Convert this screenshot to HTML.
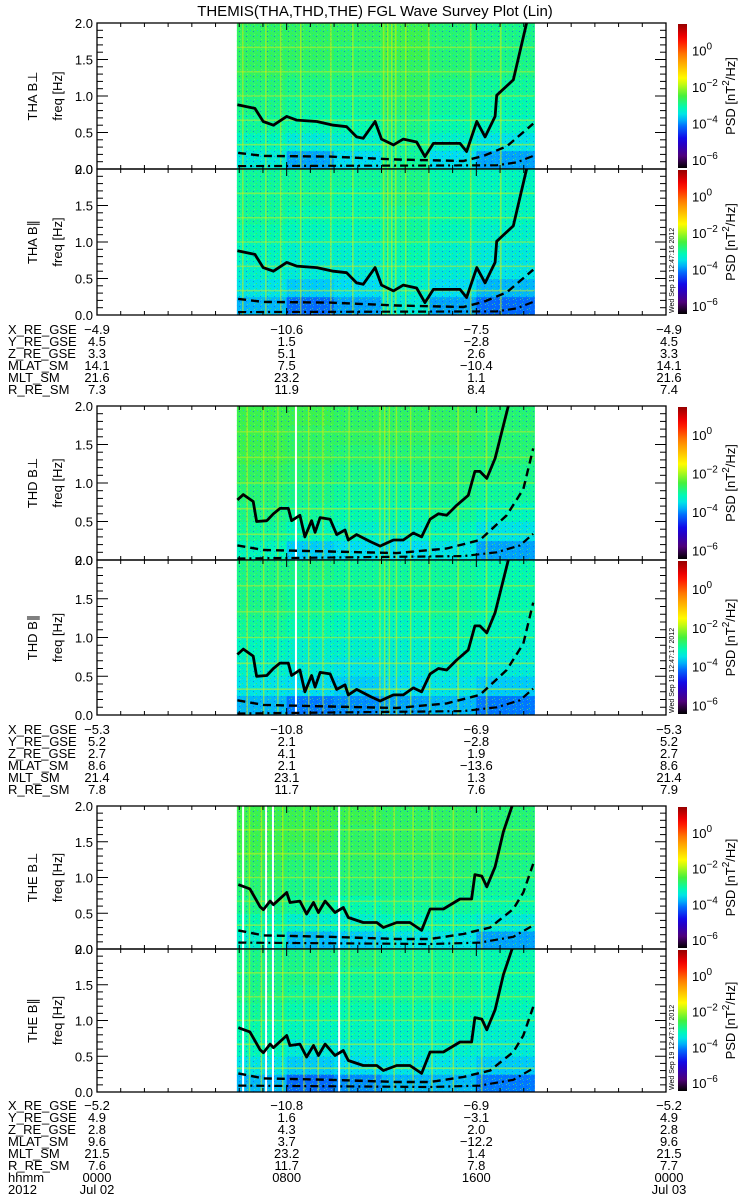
<!DOCTYPE html>
<html><head><meta charset="utf-8"><style>
html,body{margin:0;padding:0;background:#fff;}
svg{display:block;font-family:"Liberation Sans",sans-serif;}
</style></head><body>
<svg id="chart" width="750" height="1200" viewBox="0 0 750 1200" xmlns="http://www.w3.org/2000/svg">
<defs id="defs">
<pattern id="speckle" width="7" height="5" patternUnits="userSpaceOnUse">
<rect x="1" y="1" width="1" height="1" fill="#1040ff" opacity="0.6"/>
<rect x="4" y="3" width="1" height="1" fill="#40f040" opacity="0.7"/>
<rect x="5" y="0" width="1" height="1" fill="#00c0ff" opacity="0.6"/>
<rect x="2" y="4" width="1" height="1" fill="#a0ff40" opacity="0.5"/>
</pattern>
</defs>
<text x="375" y="16" text-anchor="middle" font-size="15">THEMIS(THA,THD,THE) FGL Wave Survey Plot (Lin)</text>
</svg>
<script>
// ---------- data ----------
const timeEdges = [5.9, 8, 10, 12, 14, 16, 18.45];
const freqEdges = [0, 0.25, 0.5, 0.75, 1.0, 1.25, 1.5, 1.75, 2.0];
const harmonicFreqs = [0.333, 0.667, 1.0, 1.333, 1.667];

const thaPerpLevels = [
 [-3.4,-3.9,-3.6,-3.0,-3.6,-3.9],[-3.2,-3.4,-3.3,-3.0,-3.3,-3.5],
 [-3.0,-3.1,-3.1,-2.9,-3.1,-3.2],[-2.9,-3.0,-3.0,-2.8,-3.0,-3.1],
 [-2.8,-2.9,-2.9,-2.7,-2.9,-3.0],[-2.7,-2.8,-2.8,-2.7,-2.8,-2.9],
 [-2.7,-2.7,-2.8,-2.6,-2.8,-2.9],[-2.7,-2.7,-2.7,-2.6,-2.8,-2.9]];
const thaParLevels = [
 [-3.8,-4.2,-3.9,-3.4,-3.9,-4.2],[-3.5,-3.7,-3.6,-3.3,-3.6,-3.8],
 [-3.3,-3.4,-3.4,-3.2,-3.4,-3.5],[-3.2,-3.3,-3.3,-3.1,-3.3,-3.4],
 [-3.1,-3.2,-3.2,-3.0,-3.2,-3.3],[-3.0,-3.1,-3.1,-3.0,-3.1,-3.2],
 [-3.0,-3.0,-3.1,-2.9,-3.1,-3.2],[-3.0,-3.0,-3.0,-2.9,-3.1,-3.2]];
const thdPerpLevels = [
 [-3.2,-3.7,-3.6,-3.6,-3.5,-3.9],[-3.0,-3.2,-3.3,-3.3,-3.2,-3.5],
 [-2.9,-3.0,-3.1,-3.1,-3.0,-3.2],[-2.8,-2.9,-3.0,-3.0,-2.9,-3.0],
 [-2.7,-2.8,-2.9,-2.9,-2.8,-2.9],[-2.6,-2.7,-2.8,-2.8,-2.8,-2.8],
 [-2.6,-2.7,-2.7,-2.7,-2.7,-2.8],[-2.6,-2.6,-2.7,-2.7,-2.7,-2.8]];
const thdParLevels = [
 [-3.8,-4.1,-4.0,-3.9,-3.8,-4.1],[-3.5,-3.6,-3.7,-3.6,-3.5,-3.7],
 [-3.3,-3.4,-3.5,-3.4,-3.3,-3.4],[-3.2,-3.3,-3.3,-3.3,-3.2,-3.3],
 [-3.0,-3.1,-3.2,-3.2,-3.1,-3.2],[-2.9,-3.0,-3.1,-3.1,-3.0,-3.1],
 [-2.9,-3.0,-3.0,-3.0,-3.0,-3.1],[-2.9,-2.9,-3.0,-3.0,-3.0,-3.1]];
const thePerpLevels = [
 [-3.3,-3.8,-3.7,-3.5,-3.5,-3.9],[-3.1,-3.3,-3.3,-3.2,-3.2,-3.4],
 [-2.9,-3.0,-3.1,-3.0,-3.0,-3.1],[-2.8,-2.9,-2.9,-2.9,-2.9,-3.0],
 [-2.7,-2.8,-2.8,-2.8,-2.8,-2.9],[-2.6,-2.7,-2.7,-2.7,-2.7,-2.8],
 [-2.6,-2.6,-2.7,-2.7,-2.7,-2.8],[-2.6,-2.6,-2.6,-2.7,-2.7,-2.8]];
const theParLevels = [
 [-3.8,-4.2,-4.0,-3.8,-3.8,-4.1],[-3.5,-3.7,-3.6,-3.5,-3.5,-3.7],
 [-3.2,-3.4,-3.4,-3.3,-3.3,-3.4],[-3.1,-3.2,-3.2,-3.2,-3.2,-3.3],
 [-3.0,-3.1,-3.1,-3.1,-3.1,-3.2],[-2.9,-3.0,-3.0,-3.0,-3.0,-3.1],
 [-2.9,-2.9,-3.0,-3.0,-3.0,-3.1],[-2.9,-2.9,-2.9,-3.0,-3.0,-3.1]];

const thaStripeTimes = [6.12,7.09,7.72,8.56,9.83,10.76,12.06,12.23,12.40,12.57,12.99,13.96,15.73,17.0];
const thdStripeTimes = [6.3,7.0,7.6,8.9,9.5,10.6,11.9,12.1,12.3,12.6,13.2,14.0,15.2,16.4];
const theStripeTimes = [6.4,6.9,7.8,8.7,9.3,10.6,11.7,12.5,13.3,14.1,15.0,16.2];
const thaGapTimes = [];
const thdGapTimes = [8.35];
const theGapTimes = [6.12,7.09,7.38,10.17];

const thaSolidT = [5.92,6.66,7.01,7.44,8.0,8.42,9.27,9.97,10.53,10.95,11.23,11.73,12.0,12.5,12.92,13.48,13.83,14.19,14.89,15.31,15.59,16.02,16.37,16.79,16.86,17.56,18.12];
const thaSolidF = [0.88,0.83,0.65,0.6,0.72,0.67,0.65,0.6,0.58,0.44,0.42,0.65,0.41,0.33,0.41,0.37,0.17,0.35,0.35,0.35,0.24,0.65,0.44,0.72,1.01,1.22,2.0];
const thaDashT = [5.95,7.02,9.83,12.64,15.45,16.30,17.28,18.40];
const thaDashF = [0.22,0.18,0.17,0.13,0.11,0.18,0.31,0.62];
const thaDotT = [5.95,16.86,17.70,18.40];
const thaDotF = [0.04,0.05,0.09,0.18];

const thdSolidT = [5.92,6.17,6.59,6.73,7.16,7.44,7.72,8.07,8.21,8.56,8.77,9.05,9.20,9.41,9.83,10.11,10.46,10.60,10.95,11.52,11.94,12.50,12.92,13.34,13.69,14.05,14.40,14.75,15.17,15.66,15.94,16.15,16.44,16.79,17.35];
const thdSolidF = [0.78,0.85,0.76,0.5,0.51,0.6,0.67,0.67,0.51,0.58,0.30,0.51,0.36,0.55,0.53,0.33,0.39,0.26,0.33,0.24,0.18,0.26,0.26,0.35,0.30,0.53,0.6,0.58,0.71,0.84,1.15,1.15,1.06,1.32,2.0];
const thdDashT = [5.92,7.02,9.83,12.64,14.75,16.15,17.28,17.98,18.40];
const thdDashF = [0.19,0.13,0.11,0.09,0.15,0.26,0.58,0.92,1.45];
const thdDotT = [5.92,15.45,16.86,17.84,18.40];
const thdDotF = [0.02,0.05,0.10,0.19,0.34];

const theSolidT = [5.96,6.45,6.88,7.02,7.30,7.44,8.0,8.14,8.56,8.84,9.13,9.34,9.62,10.04,10.39,10.60,11.23,11.80,12.08,12.64,13.20,13.69,14.05,14.61,15.31,15.80,15.94,16.23,16.44,16.79,17.14,17.56];
const theSolidF = [0.9,0.84,0.59,0.55,0.67,0.62,0.79,0.65,0.67,0.49,0.65,0.51,0.67,0.51,0.58,0.44,0.37,0.37,0.30,0.37,0.37,0.26,0.56,0.56,0.70,0.70,1.04,1.02,0.87,1.15,1.64,2.05];
const theDashT = [5.96,7.02,9.83,12.64,14.05,15.45,16.58,17.56,17.98,18.40];
const theDashF = [0.26,0.19,0.17,0.14,0.14,0.21,0.30,0.56,0.79,1.19];
const theDotT = [5.96,14.05,16.15,17.56,18.40];
const theDotF = [0.09,0.07,0.09,0.17,0.33];

const yTicks = [0, 0.5, 1.0, 1.5, 2.0];
const yTickLabels = ["0.0","0.5","1.0","1.5","2.0"];
const cbarExps = [0, -2, -4, -6];
const rowNames = ["X_RE_GSE","Y_RE_GSE","Z_RE_GSE","MLAT_SM","MLT_SM","R_RE_SM"];
const block1 = [["−4.9","−10.6","−7.5","−4.9"],["4.5","1.5","−2.8","4.5"],["3.3","5.1","2.6","3.3"],["14.1","7.5","−10.4","14.1"],["21.6","23.2","1.1","21.6"],["7.3","11.9","8.4","7.4"]];
const block2 = [["−5.3","−10.8","−6.9","−5.3"],["5.2","2.1","−2.8","5.2"],["2.7","4.1","1.9","2.7"],["8.6","2.1","−13.6","8.6"],["21.4","23.1","1.3","21.4"],["7.8","11.7","7.6","7.9"]];
const block3 = [["−5.2","−10.8","−6.9","−5.2"],["4.9","1.6","−3.1","4.9"],["2.8","4.3","2.0","2.8"],["9.6","3.7","−12.2","9.6"],["21.5","23.2","1.4","21.5"],["7.6","11.7","7.8","7.7"],["0000","0800","1600","0000"],["Jul 02","","","Jul 03"]];
const labelTimes = [0, 8, 16, 24];

// ---------- layout ----------
const X0 = 97, X1 = 666, VMIN = -6.5, VMAX = 1.5;
const panels = [
 {sc:"THA",comp:"B⊥",top:23,bot:169,lev:thaPerpLevels,st:thaStripeTimes,gp:thaGapTimes,s:[thaSolidT,thaSolidF],d:[thaDashT,thaDashF],o:[thaDotT,thaDotF],stamp:""},
 {sc:"THA",comp:"B∥",top:169,bot:315,lev:thaParLevels,st:thaStripeTimes,gp:thaGapTimes,s:[thaSolidT,thaSolidF],d:[thaDashT,thaDashF],o:[thaDotT,thaDotF],stamp:"Wed Sep 19 12:47:16 2012"},
 {sc:"THD",comp:"B⊥",top:406,bot:560,lev:thdPerpLevels,st:thdStripeTimes,gp:thdGapTimes,s:[thdSolidT,thdSolidF],d:[thdDashT,thdDashF],o:[thdDotT,thdDotF],stamp:""},
 {sc:"THD",comp:"B∥",top:560,bot:715,lev:thdParLevels,st:thdStripeTimes,gp:thdGapTimes,s:[thdSolidT,thdSolidF],d:[thdDashT,thdDashF],o:[thdDotT,thdDotF],stamp:"Wed Sep 19 12:47:17 2012"},
 {sc:"THE",comp:"B⊥",top:806,bot:949,lev:thePerpLevels,st:theStripeTimes,gp:theGapTimes,s:[theSolidT,theSolidF],d:[theDashT,theDashF],o:[theDotT,theDotF],stamp:""},
 {sc:"THE",comp:"B∥",top:949,bot:1092,lev:theParLevels,st:theStripeTimes,gp:theGapTimes,s:[theSolidT,theSolidF],d:[theDashT,theDashF],o:[theDotT,theDotF],stamp:"Wed Sep 19 12:47:17 2012"}
];
const blocks = [{y:334,rows:block1},{y:734,rows:block2},{y:1110,rows:block3}];

const NS = "http://www.w3.org/2000/svg";
const svg = document.getElementById("chart");
const defs = document.getElementById("defs");
function mk(tag, attrs, parent){const e=document.createElementNS(NS,tag);for(const k in attrs)e.setAttribute(k,attrs[k]);(parent||svg).appendChild(e);return e;}
const xScale = t => X0 + (t/24)*(X1-X0);
function yScale(p){return f => p.bot - (f/2)*(p.bot-p.top);}

const cmapStops = [[0,[0,0,0]],[0.08,[80,0,120]],[0.2,[20,0,230]],[0.3,[0,120,255]],[0.36,[0,220,245]],[0.42,[0,250,180]],[0.5,[70,240,60]],[0.62,[255,255,0]],[0.78,[255,130,0]],[0.9,[255,0,0]],[1,[150,0,0]]];
function cmap(v){let t=(v-VMIN)/(VMAX-VMIN);t=Math.max(0,Math.min(1,t));
 for(let i=1;i<cmapStops.length;i++){if(t<=cmapStops[i][0]){const a=cmapStops[i-1],b=cmapStops[i];const u=(t-a[0])/(b[0]-a[0]);
 const c=a[1].map((x,j)=>Math.round(x+(b[1][j]-x)*u));return `rgb(${c[0]},${c[1]},${c[2]})`;}}return "rgb(150,0,0)";}

const grad = mk("linearGradient",{id:"cbar",x1:"0",y1:"1",x2:"0",y2:"0"},defs);
for(let i=0;i<=24;i++){mk("stop",{offset:(i/24).toFixed(3),"stop-color":cmap(VMIN+(VMAX-VMIN)*i/24)},grad);}

panels.forEach((p,pi)=>{
 const ys = yScale(p);
 const g = mk("g",{});
 
 
 const cp = mk("clipPath",{id:"clip"+pi},defs);
 mk("rect",{x:X0,y:p.top,width:X1-X0,height:p.bot-p.top},cp);
 const spec = mk("g",{"clip-path":`url(#clip${pi})`},g);
 
 
 for(let r=0;r<p.lev.length;r++)for(let c=0;c<p.lev[r].length;c++){
  const x0=xScale(timeEdges[c]),x1=xScale(timeEdges[c+1]),y0=ys(freqEdges[r+1]),y1=ys(freqEdges[r]);
  const cell = mk("rect",{x:x0,y:y0,width:x1-x0+0.5,height:y1-y0+0.5,fill:cmap(p.lev[r][c])},spec);
  
  
 }
 const sx0=xScale(timeEdges[0]), sx1=xScale(timeEdges[timeEdges.length-1]);
 const tex = mk("rect",{x:sx0,y:p.top,width:sx1-sx0,height:p.bot-p.top,fill:"url(#speckle)"},spec);
 
 
 harmonicFreqs.forEach(f=>{
  const hl = mk("line",{x1:sx0,x2:sx1,y1:ys(f),y2:ys(f),stroke:"#c8f020","stroke-width":1.6,opacity:0.5},spec);
  
  
 });
 p.st.forEach(t=>{
  const vl = mk("rect",{x:xScale(t),y:p.top,width:1.5,height:p.bot-p.top,fill:"#e8f000",opacity:0.5},spec);
  
  
 });
 p.gp.forEach(t=>{
  const gl = mk("rect",{x:xScale(t),y:p.top,width:2,height:p.bot-p.top,fill:"#fff"},spec);
  
  
 });
 const path = (T,F)=>T.map((t,i)=>(i?"L":"M")+xScale(t).toFixed(1)+","+ys(F[i]).toFixed(1)).join("");
 const l1 = mk("path",{d:path(p.s[0],p.s[1]),fill:"none",stroke:"#000","stroke-width":2.8,"stroke-linejoin":"round"},spec);
 
 
 const l2 = mk("path",{d:path(p.d[0],p.d[1]),fill:"none",stroke:"#000","stroke-width":2.4,"stroke-dasharray":"8,5"},spec);
 
 
 const l3 = mk("path",{d:path(p.o[0],p.o[1]),fill:"none",stroke:"#000","stroke-width":2.2,"stroke-dasharray":"8,4,2,4"},spec);
 
 

 const fr = mk("rect",{x:X0,y:p.top,width:X1-X0,height:p.bot-p.top,fill:"none",stroke:"#000","stroke-width":1.3},g);
 
 
 for(let k=0;k<=20;k++){const f=k*0.1;const len=(k%5===0)?11:6;const y=ys(f);
  const t1 = mk("line",{x1:X0,x2:X0+len,y1:y,y2:y,stroke:"#000","stroke-width":1},g);
  
  
  const t2 = mk("line",{x1:X1,x2:X1-len,y1:y,y2:y,stroke:"#000","stroke-width":1},g);
  
  
 }
 yTicks.forEach((f,i)=>{
  const tl = mk("text",{x:X0-4,y:ys(f)+5,"text-anchor":"end","font-size":13},g);
  tl.textContent = yTickLabels[i];
  
  
 });
 for(let h=1;h<24;h++){const x=xScale(h);const len=(h%8===0)?7:4;
  const a = mk("line",{x1:x,x2:x,y1:p.top,y2:p.top+len,stroke:"#000","stroke-width":1},g);
  
  
  const b = mk("line",{x1:x,x2:x,y1:p.bot,y2:p.bot-len,stroke:"#000","stroke-width":1},g);
  
  
 }
 const cy=(p.top+p.bot)/2;
 const yt1 = mk("text",{x:0,y:0,transform:`translate(37,${cy}) rotate(-90)`,"text-anchor":"middle","font-size":13},g);
 yt1.textContent = p.sc+" "+p.comp;
 
 
 const yt2 = mk("text",{x:0,y:0,transform:`translate(62,${cy}) rotate(-90)`,"text-anchor":"middle","font-size":13},g);
 yt2.textContent = "freq [Hz]";
 
 
 const cb = mk("rect",{x:678,y:p.top+1,width:9,height:p.bot-p.top-2,fill:"url(#cbar)"},g);
 
 
 const cbY = v => p.bot-(v-VMIN)/(VMAX-VMIN)*(p.bot-p.top);
 cbarExps.forEach(e=>{
  const t = mk("text",{x:692,y:cbY(e)+5,"font-size":13},g);
  t.textContent="10";
  const sp = mk("tspan",{dy:-6,"font-size":10},t);
  sp.textContent = e===0?"0":"−"+Math.abs(e);
  
  
 });
 const pl = mk("text",{x:0,y:0,transform:`translate(735,${cy}) rotate(-90)`,"text-anchor":"middle","font-size":13},g);
 pl.textContent="PSD [nT";
 const s2 = mk("tspan",{dy:-6,"font-size":10},pl); s2.textContent="2";
 const s3 = mk("tspan",{dy:6},pl); s3.textContent="/Hz]";
 
 
 if(p.stamp){
  const st = mk("text",{x:0,y:0,transform:`translate(674,${p.bot-2}) rotate(-90)`,"font-size":7},g);
  st.textContent=p.stamp;
  
  
 }
});

blocks.forEach((b,bi)=>{
 b.rows.forEach((row,ri)=>{
  const y=b.y+ri*12;
  const nm = mk("text",{x:8,y:y,"font-size":13});
  nm.textContent = ri<6?rowNames[ri]:(ri===6?"hhmm":"2012");
  
  
  row.forEach((v,ci)=>{
   if(!v)return;
   const t = mk("text",{x:xScale(labelTimes[ci])+(ci===3?3:0),y:y,"text-anchor":"middle","font-size":13});
   t.textContent=v;
   
   
  });
 });
});
</script>
</body></html>
